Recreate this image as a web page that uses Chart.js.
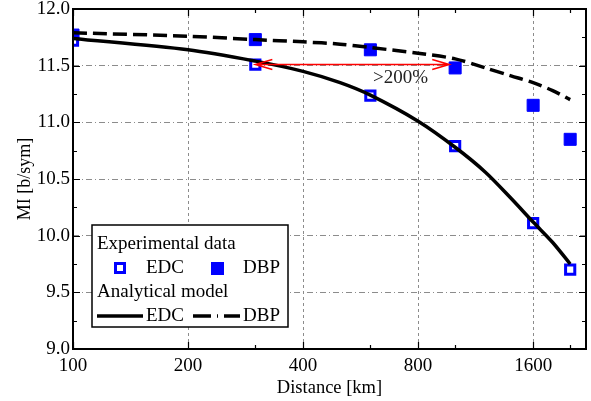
<!DOCTYPE html>
<html>
<head>
<meta charset="utf-8">
<script src="https://cdn.jsdelivr.net/npm/chart.js@4"></script>
<style>
  html, body { margin: 0; padding: 0; background: #fff; }
  #wrap { width: 591px; height: 401px; }
</style>
</head>
<body>
<div id="wrap"><canvas id="miChart" width="591" height="401"></canvas></div>
<script>
// Experimental data (distance in km, MI in b/sym)
const expDistance = [100, 300, 600, 1000, 1600, 2000];
const expEDC = [11.72, 11.51, 11.235, 10.79, 10.11, 9.70];
const expDBP = [11.77, 11.73, 11.64, 11.48, 11.15, 10.85];

// Analytical model
const modelDistance = [100, 200, 300, 400, 500, 600, 800, 1000, 1200, 1400, 1600, 1800, 2000];
const modelEDC = [11.74, 11.64, 11.54, 11.45, 11.35, 11.24, 11.01, 10.78, 10.56, 10.33, 10.12, 9.94, 9.75];
const modelDBP = [11.79, 11.76, 11.73, 11.71, 11.69, 11.66, 11.61, 11.56, 11.48, 11.41, 11.35, 11.28, 11.20];

// Axes
const xTickLabels = [100, 200, 400, 800, 1600];
const xMinorTicks = [300, 600, 1000, 2000];
const yMin = 9.0, yMax = 12.0, yStep = 0.5;

// Gain annotation
const gainFrom = 300, gainTo = 965, gainLevel = 11.51;
const gainText = '>200%';
const gainTextX = 720, gainTextY = 11.39;

const SERIF = '"Liberation Serif", "Times New Roman", serif';
const BLUE = '#0000ff';

Chart.defaults.font.family = SERIF;
Chart.defaults.font.size = 19;
Chart.defaults.color = '#000';

const toXY = (xs, ys) => xs.map((x, i) => ({ x, y: ys[i] }));

// inside tick marks + box frame
const framePlugin = {
  id: 'frame',
  afterDraw(chart) {
    const { ctx, chartArea: a, scales: { x, y } } = chart;
    ctx.save();
    ctx.strokeStyle = '#000';
    ctx.lineWidth = 1.2;
    ctx.beginPath();
    xTickLabels.concat(xMinorTicks).forEach(v => {
      const px = Math.round(x.getPixelForValue(v)) + 0.5;
      const len = xTickLabels.includes(v) ? 7 : 4;
      ctx.moveTo(px, a.bottom); ctx.lineTo(px, a.bottom - len);
      ctx.moveTo(px, a.top); ctx.lineTo(px, a.top + len);
    });
    for (let v = yMin; v <= yMax + 1e-9; v += yStep / 2) {
      const py = Math.round(y.getPixelForValue(v)) + 0.5;
      const major = Math.abs(v / yStep - Math.round(v / yStep)) < 1e-6;
      const len = major ? 7 : 4;
      ctx.moveTo(a.left, py); ctx.lineTo(a.left + len, py);
      ctx.moveTo(a.right, py); ctx.lineTo(a.right - len, py);
    }
    ctx.stroke();
    ctx.lineWidth = 2;
    ctx.strokeRect(a.left, a.top, a.right - a.left, a.bottom - a.top);
    ctx.restore();
  }
};

// red double arrow with label
const gainPlugin = {
  id: 'gain',
  afterDatasetsDraw(chart) {
    const { ctx, scales: { x, y } } = chart;
    const x1 = x.getPixelForValue(gainFrom), x2 = x.getPixelForValue(gainTo);
    const py = y.getPixelForValue(gainLevel);
    ctx.save();
    ctx.strokeStyle = '#ff0000';
    ctx.lineWidth = 1.5;
    ctx.beginPath();
    ctx.moveTo(x1, py); ctx.lineTo(x2, py);
    ctx.moveTo(x1 + 17, py - 5); ctx.lineTo(x1, py); ctx.lineTo(x1 + 17, py + 5);
    ctx.moveTo(x2 - 17, py - 5); ctx.lineTo(x2, py); ctx.lineTo(x2 - 17, py + 5);
    ctx.stroke();
    ctx.fillStyle = '#222';
    ctx.font = '19px ' + SERIF;
    ctx.textAlign = 'center';
    ctx.textBaseline = 'middle';
    ctx.fillText(gainText, x.getPixelForValue(gainTextX), y.getPixelForValue(gainTextY));
    ctx.restore();
  }
};

// legend box in the lower left
const legendPlugin = {
  id: 'boxLegend',
  afterDraw(chart) {
    const { ctx } = chart;
    const bx = 92, by = 225, bw = 196, bh = 102;
    ctx.save();
    ctx.fillStyle = '#fff';
    ctx.fillRect(bx, by, bw, bh);
    ctx.strokeStyle = '#000';
    ctx.lineWidth = 1.5;
    ctx.strokeRect(bx, by, bw, bh);

    ctx.fillStyle = '#000';
    ctx.font = '19px ' + SERIF;
    ctx.textBaseline = 'middle';
    ctx.textAlign = 'left';
    ctx.fillText('Experimental data', 97, 244);
    ctx.fillText('EDC', 146, 268);
    ctx.fillText('DBP', 243, 268);
    ctx.fillText('Analytical model', 97, 292);
    ctx.fillText('EDC', 146, 316);
    ctx.fillText('DBP', 243, 316);

    // markers
    ctx.strokeStyle = BLUE;
    ctx.lineWidth = 3;
    ctx.strokeRect(115.5, 263.5, 9, 9);
    ctx.fillStyle = BLUE;
    ctx.fillRect(211, 262, 13, 13);

    // line samples
    ctx.strokeStyle = '#000';
    ctx.lineWidth = 3.5;
    ctx.beginPath();
    ctx.moveTo(97, 316); ctx.lineTo(143, 316);
    ctx.stroke();
    ctx.setLineDash([18, 6, 1, 6]);
    ctx.beginPath();
    ctx.moveTo(193, 316); ctx.lineTo(240, 316);
    ctx.stroke();
    ctx.restore();
  }
};

new Chart(document.getElementById('miChart'), {
  type: 'line',
  data: {
    datasets: [
      {
        label: 'EDC (model)',
        data: toXY(modelDistance, modelEDC),
        borderColor: '#000',
        borderWidth: 3.5,
        pointRadius: 0,
        tension: 0.3,
        order: 0
      },
      {
        label: 'DBP (model)',
        data: toXY(modelDistance, modelDBP),
        borderColor: '#000',
        borderWidth: 3.5,
        borderDash: [14, 6],
        pointRadius: 0,
        tension: 0.3,
        order: 0
      },
      {
        label: 'EDC (experimental)',
        data: toXY(expDistance, expEDC),
        showLine: false,
        pointStyle: 'rect',
        pointRadius: 6.5,
        pointBorderWidth: 3,
        pointBorderColor: BLUE,
        pointBackgroundColor: '#fff',
        order: 1
      },
      {
        label: 'DBP (experimental)',
        data: toXY(expDistance, expDBP),
        showLine: false,
        pointStyle: 'rect',
        pointRadius: 8.5,
        pointBorderWidth: 1,
        pointBorderColor: BLUE,
        pointBackgroundColor: BLUE,
        order: 1
      }
    ]
  },
  options: {
    responsive: false,
    animation: false,
    layout: { autoPadding: false, padding: { top: 9, right: 5, left: 0, bottom: 0 } },
    plugins: { legend: { display: false }, tooltip: { enabled: false } },
    scales: {
      x: {
        type: 'logarithmic',
        min: 100,
        max: 2200,
        afterBuildTicks: s => { s.ticks = xTickLabels.map(v => ({ value: v })); },
        afterFit: s => { s.height = 52; s.paddingLeft = 0; s.paddingRight = 0; },
        ticks: { callback: v => String(v), padding: 6, maxRotation: 0, autoSkip: false },
        grid: { color: '#8c8c8c', lineWidth: 1, drawTicks: false },
        border: { display: false, dash: [3, 3] },
        title: { display: true, text: 'Distance [km]', font: { size: 18.5 }, padding: { top: 0, bottom: 2 } }
      },
      y: {
        min: yMin,
        max: yMax,
        afterFit: s => { s.width = 73; s.paddingTop = 0; s.paddingBottom = 0; },
        ticks: { stepSize: yStep, callback: v => v.toFixed(1), padding: 3 },
        grid: { color: '#8c8c8c', lineWidth: 1, drawTicks: false },
        border: { display: false, dash: [6, 3, 1, 3] },
        title: { display: true, text: 'MI [b/sym]', font: { size: 18 }, padding: { top: 14, bottom: 0 } }
      }
    }
  },
  plugins: [gainPlugin, framePlugin, legendPlugin]
});
</script>
</body>
</html>
